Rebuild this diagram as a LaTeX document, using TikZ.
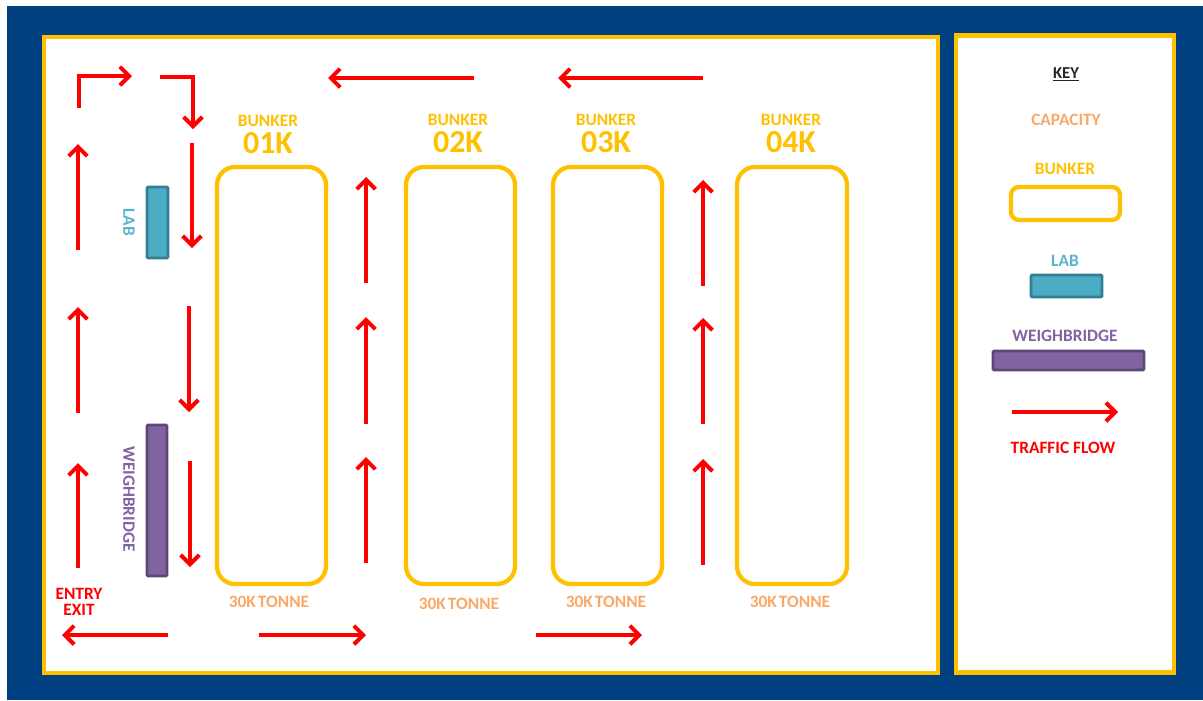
\documentclass[tikz,border=0pt]{standalone}
\usepackage{fontspec}
\setmainfont{Carlito}
\usetikzlibrary{arrows.meta}
\definecolor{navy}{HTML}{004080}
\definecolor{gold}{HTML}{FFC000}
\definecolor{cap}{HTML}{F9A868}
\definecolor{labfill}{HTML}{4BACC6}
\definecolor{labline}{HTML}{357D91}
\definecolor{labtext}{HTML}{5AB4CC}
\definecolor{wbfill}{HTML}{8064A2}
\definecolor{wbline}{HTML}{5C4776}
\tikzset{
 x=0.75pt,y=-0.75pt,
 panel/.style={draw=gold,fill=white,line width=3pt},
 keypanel/.style={draw=gold,fill=white,line width=3.2pt},
 bunkerbox/.style={draw=gold,fill=white,line width=3.2pt,rounded corners=13.5pt},
 labbox/.style={draw=labline,fill=labfill,line width=2pt,rounded corners=0.8pt},
 wbbox/.style={draw=wbline,fill=wbfill,line width=2pt,rounded corners=0.8pt},
 flow/.style={draw=red,line width=3pt,-{Straight Barb[length=7pt,width=14pt,line width=3pt]}},
 lb/.style={inner sep=0pt,anchor=center},
 small/.style={font=\bfseries\fontsize{13}{13}\selectfont},
 bunkertxt/.style={lb,small,text=gold},
 bignum/.style={lb,text=gold,font=\bfseries\fontsize{24}{24}\selectfont},
 captxt/.style={lb,small,text=cap},
 labtxt/.style={lb,small,text=labtext},
 wbtxt/.style={lb,small,text=wbfill},
 redtxt/.style={lb,small,text=red},
}
\newcommand{\flowarrow}[3]{%
 \coordinate (#1s) at (#2);\coordinate (#1e) at (#3);
 \draw[flow] (#1s) -- (#1e);}
\newcommand{\tonne}{30K\hspace{0.12em}TONNE}
\begin{document}
\begin{tikzpicture}
\useasboundingbox (0,0) rectangle (1203,700);
\fill[white] (0,0) rectangle (1203,700);
\fill[navy] (7,6) rectangle (1203,700);
\draw[panel] (44,37) rectangle (938,672.5);
\draw[keypanel] (956,35.5) rectangle (1174,672.5);
% bunkers
\draw[bunkerbox] (217,167) rectangle (326,584);
\draw[bunkerbox] (406,167) rectangle (515,584);
\draw[bunkerbox] (553,167) rectangle (662,584);
\draw[bunkerbox] (737,167) rectangle (847,584);
\node[bunkertxt] (b1) at (268,121) {BUNKER};
\node[bunkertxt] (b2) at (458,120) {BUNKER};
\node[bunkertxt] (b3) at (606,120) {BUNKER};
\node[bunkertxt] (b4) at (791,120) {BUNKER};
\node[bignum] (n1) at (268,143) {01K};
\node[bignum] (n2) at (458,142) {02K};
\node[bignum] (n3) at (606,142) {03K};
\node[bignum] (n4) at (791,142) {04K};
\node[captxt] (c1) at (269,601.5) {\tonne};
\node[captxt] (c2) at (459,603.5) {\tonne};
\node[captxt] (c3) at (606,601.5) {\tonne};
\node[captxt] (c4) at (790,601.5) {\tonne};
% lab and weighbridge
\draw[labbox] (147,187) rectangle (168,258);
\draw[wbbox] (147,425) rectangle (167,576);
\node[labtxt,rotate=-90] (lab) at (129,222) {LAB};
\node[wbtxt,rotate=-90] (wb) at (129,499) {WEIGHBRIDGE};
\node[redtxt,align=center] (ee) at (79,602) {ENTRY\\[-1.5pt]EXIT};
% flows
\flowarrow{a}{78,568}{78,463}
\flowarrow{b}{78,413}{78,307}
\flowarrow{c}{78,250}{78,144}
\coordinate (d0) at (79,108);\coordinate (d1) at (79,76);\coordinate (d2) at (132,76);
\draw[flow] (d0) -- (d1) -- (d2);
\coordinate (e0) at (160,77);\coordinate (e1) at (193,77);\coordinate (e2) at (193,129);
\draw[flow] (e0) -- (e1) -- (e2);
\flowarrow{f}{192,143}{192,248}
\flowarrow{g}{189,306}{189,412}
\flowarrow{h}{190,461}{190,567}
\flowarrow{i}{168,635}{62,635}
\flowarrow{j}{259,635}{366,635}
\flowarrow{k}{536,635}{642,635}
\flowarrow{l}{474,78}{328,78}
\flowarrow{m}{703,78}{558,78}
\flowarrow{n}{366,283}{366,177}
\flowarrow{o}{366,424}{366,317}
\flowarrow{p}{366,563}{366,457}
\flowarrow{q}{703,286}{703,180}
\flowarrow{r}{703,424}{703,318}
\flowarrow{s}{703,565}{703,459}
% key
\node[lb,text=black!85,font=\bfseries\fontsize{12.5}{12.5}\selectfont] (key) at (1066,74) {\underline{KEY}};
\node[captxt] (kc) at (1066,119.5) {CAPACITY};
\node[bunkertxt] (kb) at (1065,169) {BUNKER};
\draw[bunkerbox,rounded corners=6pt] (1011,187) rectangle (1120,220);
\node[labtxt] (kl) at (1065,261) {LAB};
\draw[labbox] (1031,275) rectangle (1102,297);
\node[wbtxt] (kw) at (1065,336) {WEIGHBRIDGE};
\draw[wbbox] (993,351) rectangle (1144,370);
\flowarrow{t}{1012,412}{1118,412}
\node[redtxt] (kt) at (1063,448) {TRAFFIC FLOW};
\end{tikzpicture}
\end{document}
